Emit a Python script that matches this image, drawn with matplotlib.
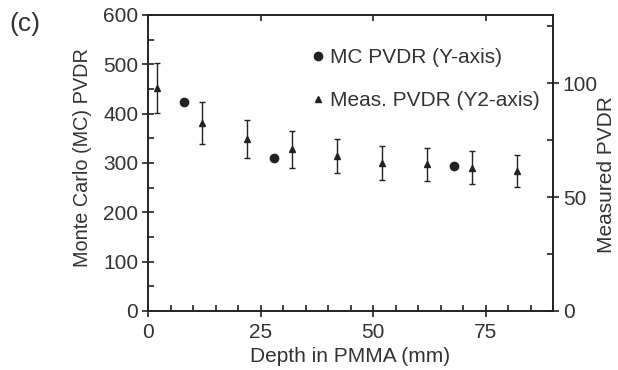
import matplotlib
matplotlib.use("Agg")
import matplotlib.pyplot as plt
from matplotlib.ticker import MultipleLocator
from matplotlib.lines import Line2D

plt.rcParams['font.family'] = ['Liberation Sans', 'DejaVu Sans']

mc_depth = [8, 28, 68]
mc_pvdr = [423, 311, 294]

meas_depth = [2, 12, 22, 32, 42, 52, 62, 72, 82]
meas_pvdr = [98, 82.5, 75.5, 71, 68, 65, 64.5, 63, 61.5]
meas_err = [11, 9.3, 8.5, 8, 7.6, 7.4, 7.3, 7.1, 7]

TXT = '#333333'
INK = '#222222'
FS = 15

fig = plt.figure(figsize=(6.18, 3.70), dpi=100)
ax = fig.add_axes([148 / 618, 1 - 311 / 370, (553 - 148) / 618, (311 - 15) / 370])
ax2 = ax.twinx()

ax.plot(mc_depth, mc_pvdr, 'o', color=INK, markersize=6, linestyle='none')
ax2.errorbar(meas_depth, meas_pvdr, yerr=meas_err, fmt='^', color=INK,
             markersize=5, capsize=2, elinewidth=1, capthick=1, linestyle='none')

ax.set_xlim(0, 90)
ax.set_ylim(0, 600)
ax2.set_ylim(0, 130)

ax.xaxis.set_major_locator(MultipleLocator(25))
ax.xaxis.set_minor_locator(MultipleLocator(5))
ax.yaxis.set_major_locator(MultipleLocator(100))
ax.yaxis.set_minor_locator(MultipleLocator(50))
ax2.yaxis.set_major_locator(MultipleLocator(50))
ax2.yaxis.set_minor_locator(MultipleLocator(25))

for a in (ax, ax2):
    for s in a.spines.values():
        s.set_color(INK)
        s.set_linewidth(1.2)

ax.tick_params(axis='both', which='major', direction='inout', length=8, width=1.2,
               color=INK, labelsize=FS, labelcolor=TXT, pad=3, top=False)
ax.tick_params(axis='x', which='major', pad=5)
ax.tick_params(axis='both', which='minor', direction='in', length=4, width=1.2,
               color=INK, top=False)
ax2.tick_params(axis='y', which='major', direction='inout', length=8, width=1.2,
                color=INK, labelsize=FS, labelcolor=TXT, pad=3)
ax2.tick_params(axis='y', which='minor', direction='in', length=4, width=1.2, color=INK)

sec = ax.secondary_xaxis('top')
sec.xaxis.set_major_locator(MultipleLocator(25))
sec.tick_params(axis='x', which='major', direction='in', length=4, width=1.2,
                color=INK, labeltop=False)
sec.spines['top'].set_visible(False)

ax.set_xlabel('Depth in PMMA (mm)', fontsize=FS, color=TXT, labelpad=3)
ax.set_ylabel('Monte Carlo (MC) PVDR', fontsize=14.3, color=TXT, rotation=90,
              va='center', ha='center')
ax.yaxis.set_label_coords((82 - 148) / 405, (311 - 158) / 296)
ax2.set_ylabel('Measured PVDR', fontsize=FS, color=TXT, rotation=90,
               va='center', ha='center')
ax2.yaxis.set_label_coords((607 - 148) / 405, (311 - 175) / 296)

handles = [Line2D([], [], marker='o', color=INK, linestyle='none', markersize=6),
           Line2D([], [], marker='^', color=INK, linestyle='none', markersize=5)]
leg = ax2.legend(handles, ['MC PVDR (Y-axis)', 'Meas. PVDR (Y2-axis)'],
                 loc='upper left', bbox_to_anchor=(314 / 618, 1 - 48 / 370),
                 bbox_transform=fig.transFigure, frameon=False, fontsize=FS,
                 handlelength=0.4, handletextpad=0.38, borderpad=0, borderaxespad=0,
                 labelspacing=1.15, labelcolor=TXT)

fig.text(9 / 618, 1 - 24 / 370, '(c)', fontsize=19, color=TXT, ha='left', va='center')

fig.savefig('out.png', dpi=100)
